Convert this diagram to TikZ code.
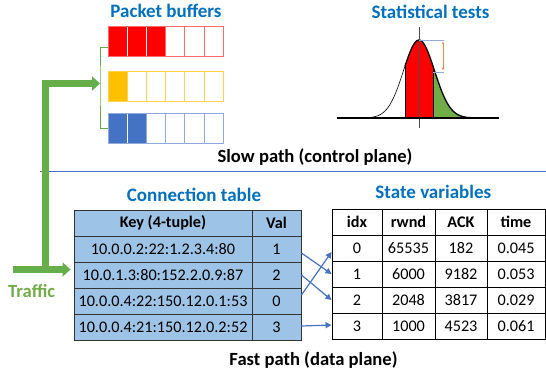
\documentclass[tikz,border=0pt]{standalone}
\usepackage{fontspec}
\setmainfont{Carlito}
\usepackage{tikz}
\usetikzlibrary{arrows.meta, positioning, calc}

\definecolor{TitleBlue}{HTML}{0070C0}
\definecolor{FeedGreen}{HTML}{66AE49}
\definecolor{TrafGreen}{HTML}{70AD47}
\definecolor{LinkBlue}{HTML}{4472C4}
\definecolor{TabFill}{HTML}{9DC3E6}
\definecolor{BufRed}{HTML}{FF6B6B}
\definecolor{BufYellow}{HTML}{FFC000}
\definecolor{BufYellowLine}{HTML}{FFD34F}
\definecolor{BufBlue}{HTML}{4472C4}
\definecolor{BufBlueLine}{HTML}{8FAADC}
\definecolor{TickBlue}{HTML}{8FAADC}
\definecolor{TickOrange}{HTML}{F08A4B}

\begin{document}
\begin{tikzpicture}[
  x=1pt, y=-1pt,
  title/.style={font=\fontsize{19}{22}\selectfont\bfseries, text=TitleBlue, anchor=base},
  plane/.style={font=\fontsize{18.6}{22}\selectfont\bfseries, anchor=base},
  bufcell/.style={rectangle, draw=white, minimum width=19.17pt, minimum height=30pt, inner sep=0pt, outer sep=0pt},
  keycell/.style={rectangle, draw=black!80, fill=TabFill, line width=0.9pt, minimum width=178pt, minimum height=26pt, inner sep=0pt, font=\fontsize{16.2}{18}\selectfont},
  valcell/.style={keycell, minimum width=49pt},
  statecell/.style={rectangle, draw=black, line width=0.9pt, minimum height=26pt, inner sep=0pt, font=\fontsize{16.2}{18}\selectfont},
  head/.style={font=\fontsize{16.2}{18}\selectfont\bfseries},
  link/.style={-{Triangle[length=6pt, width=6pt]}, LinkBlue, line width=1.2pt},
  feed/.style={-{Triangle[length=8pt, width=14pt]}, FeedGreen, line width=7pt},
  bracket/.style={FeedGreen, line width=0.8pt}
]
\useasboundingbox (0,0) rectangle (546,374);

% --- Slow path: packet buffers ---
\node[title] (buftitle) at (166,17.3) {Packet buffers};

\foreach \i in {1,2,3} \node[bufcell, fill=red] (red\i) at (98.4+19.17*\i, 41) {};
\foreach \i in {4,5,6} \node[bufcell, draw=BufRed] (red\i) at (98.4+19.17*\i, 41) {};
\draw[BufRed] (red1.north west) rectangle (red6.south east);

\foreach \i in {1} \node[bufcell, fill=BufYellow] (yel\i) at (98.4+19.17*\i, 86.5) {};
\foreach \i in {2,...,6} \node[bufcell, draw=BufYellowLine] (yel\i) at (98.4+19.17*\i, 86.5) {};
\draw[BufYellowLine] (yel1.north west) rectangle (yel6.south east);

\foreach \i in {1,2} \node[bufcell, fill=BufBlue] (blu\i) at (98.4+19.17*\i, 128) {};
\foreach \i in {3,...,6} \node[bufcell, draw=BufBlueLine] (blu\i) at (98.4+19.17*\i, 128) {};
\draw[BufBlueLine] (blu1.north west) rectangle (blu6.south east);

% bracket feeding the three buffers
\coordinate (bufin) at (100,83.5);
\draw[bracket] ([yshift=-6pt]red1.west) -| (bufin) |- (blu1.west);

% --- Slow path: statistical tests ---
\node[title] (stattitle) at (430.5,19) {Statistical tests};

\fill[red] (405,118) -- plot[domain=405:433, samples=30] (\x, {118-78*exp(-((\x-419)^2)/480.5)}) -- (433,118) -- cycle;
\fill[TrafGreen] (433,118) -- plot[domain=433:476, samples=30] (\x, {118-78*exp(-((\x-419)^2)/480.5)}) -- (476,118) -- cycle;
\draw[black, line width=1pt] (405,118) -- (405,{118-78*exp(-(14^2)/480.5)});
\draw[black, line width=1pt] (433,118) -- (433,{118-78*exp(-(14^2)/480.5)});
\draw[black, line width=0.6pt] plot[domain=345:405, samples=40] (\x, {118-78*exp(-((\x-419)^2)/480.5)});
\draw[black, line width=1.3pt] plot[domain=405:478, samples=50] (\x, {118-78*exp(-((\x-419)^2)/480.5)});
\draw[black!70, line width=0.5pt] (419,27) -- (419,128);
\draw[black, line width=1.4pt] (337,118) -- (499,118);

\draw[TickBlue, line width=0.8pt] (419,40) -- (444,40);
\draw[TickBlue, line width=0.8pt] (433,72) -- (444,72);
\draw[TickOrange, line width=0.9pt, {Stealth[length=3pt]}-{Stealth[length=3pt]}] (443,41.5) -- (443,70.5);

\node[plane] (slowlabel) at (315,162.3) {Slow path (control plane)};
\draw[LinkBlue, line width=0.8pt] (40,171) -- (546,171);

% --- Fast path: connection table ---
\node[title] (conntitle) at (194,201.7) {Connection table};

\node[keycell, head] (kh) at (163,223) {Key (4-tuple)};
\node[valcell, head] (vh) at (276.5,223) {Val};
\foreach \key/\val [count=\r] in {10.0.0.2:22:1.2.3.4:80/1, 10.0.1.3:80:152.2.0.9:87/2,
    10.0.0.4:22:150.12.0.1:53/0, 10.0.0.4:21:150.12.0.2:52/3} {
  \node[keycell] (k\r) at (163,223+26*\r) {\key};
  \node[valcell] (v\r) at (276.5,223+26*\r) {\val};
}

% --- Fast path: state variables ---
\node[title] (statetitle) at (433.3,199) {State variables};

\node[statecell, head, minimum width=50pt] (ih) at (357,222) {idx};
\node[statecell, head, minimum width=53pt] (wh) at (408.5,222) {rwnd};
\node[statecell, head, minimum width=52pt] (ah) at (461,222) {ACK};
\node[statecell, head, minimum width=58pt] (th) at (516,222) {time};
\foreach \idx/\rwnd/\ack/\tm in {0/65535/182/0.045, 1/6000/9182/0.053, 2/2048/3817/0.029, 3/1000/4523/0.061} {
  \node[statecell, minimum width=50pt] (i\idx) at (357,248+26*\idx) {\idx};
  \node[statecell, minimum width=53pt] (w\idx) at (408.5,248+26*\idx) {\rwnd};
  \node[statecell, minimum width=52pt] (a\idx) at (461,248+26*\idx) {\ack};
  \node[statecell, minimum width=58pt] (t\idx) at (516,248+26*\idx) {\tm};
}

% lookups from Val to idx
\draw[link] ([yshift=-4pt]v1.east) -- (i1.west);
\draw[link] (v2.east) -- (i2.west);
\draw[link] ([yshift=6pt]v3.east) -- ([yshift=-4pt]i0.west);
\draw[link] ([yshift=1pt]v4.east) -- ([yshift=1pt]i3.west);

\node[plane] (fastlabel) at (313.5,365.7) {Fast path (data plane)};

% --- Traffic ---
\coordinate (trafsrc) at (12.7,269.5);
\coordinate (split) at (45.5,269.5);
\draw[feed, shorten >=3pt] (trafsrc) -- (trafsrc -| k2.west);
\draw[feed] (split) |- (bufin);
\node[font=\fontsize{18.6}{22}\selectfont\bfseries, text=TrafGreen, anchor=base] (traffic) at (31.7,297.3) {Traffic};

\end{tikzpicture}
\end{document}
